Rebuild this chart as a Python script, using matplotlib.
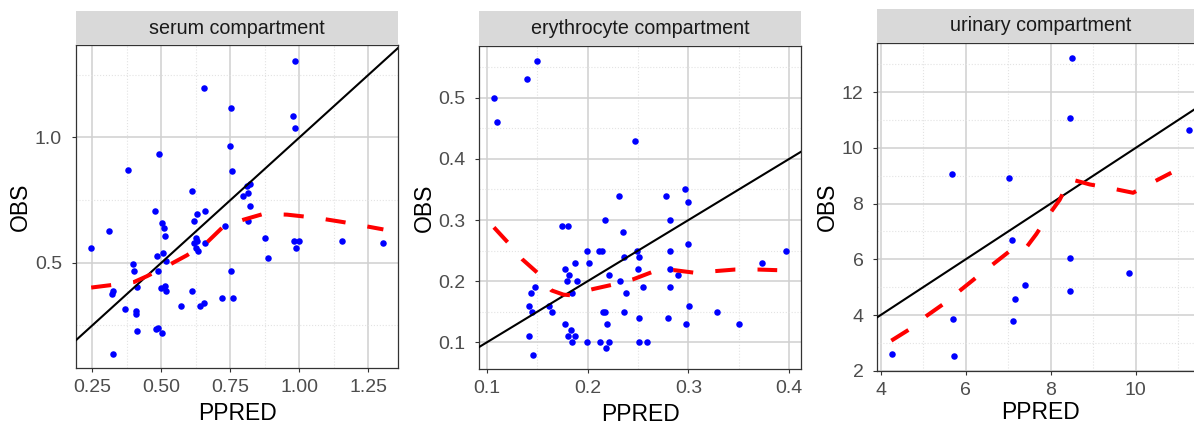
import matplotlib
matplotlib.use('Agg')
import matplotlib.pyplot as plt

plt.rcParams['font.family'] = ['Liberation Sans', 'DejaVu Sans']

# --- serum compartment ---
serum_ppred = [0.244, 0.310, 0.326, 0.323, 0.324, 0.367, 0.379, 0.397, 0.400, 0.408, 0.408,
               0.411, 0.411, 0.478, 0.488, 0.480, 0.503, 0.504, 0.509, 0.514, 0.507, 0.485,
               0.488, 0.517, 0.500, 0.515, 0.518, 0.492, 0.570, 0.612, 0.611, 0.617, 0.629,
               0.659, 0.624, 0.629, 0.620, 0.627, 0.633, 0.659, 0.641, 0.656, 0.720, 0.729,
               0.751, 0.761, 0.656, 0.753, 0.749, 0.756, 0.822, 0.812, 0.814, 0.796, 0.822,
               0.814, 0.876, 0.885, 0.980, 0.999, 0.986, 0.984, 0.976, 0.984, 1.156, 1.303]
serum_obs = [0.557, 0.628, 0.387, 0.375, 0.136, 0.317, 0.869, 0.497, 0.467, 0.308, 0.297,
             0.226, 0.405, 0.707, 0.239, 0.235, 0.218, 0.657, 0.638, 0.606, 0.537, 0.528,
             0.467, 0.507, 0.398, 0.407, 0.387, 0.936, 0.328, 0.389, 0.787, 0.668, 0.696,
             0.706, 0.597, 0.586, 0.580, 0.560, 0.546, 0.578, 0.328, 0.338, 0.358, 0.646,
             0.467, 0.358, 1.198, 1.117, 0.967, 0.867, 0.816, 0.808, 0.777, 0.768, 0.728,
             0.668, 0.597, 0.517, 0.588, 0.588, 0.557, 1.306, 1.086, 1.037, 0.588, 0.578]
serum_smooth_x = [0.246, 0.319, 0.401, 0.449, 0.521, 0.593, 0.666, 0.726, 0.798, 0.870,
                  0.955, 1.063, 1.160, 1.304]
serum_smooth_y = [0.401, 0.411, 0.423, 0.447, 0.487, 0.530, 0.582, 0.646, 0.672, 0.695,
                  0.692, 0.679, 0.662, 0.633]

# --- erythrocyte compartment ---
ery_ppred = [0.107, 0.110, 0.140, 0.150, 0.247, 0.175, 0.180, 0.217, 0.231, 0.235, 0.236,
             0.199, 0.211, 0.214, 0.201, 0.187, 0.178, 0.181, 0.179, 0.189, 0.184, 0.221,
             0.232, 0.238, 0.249, 0.251, 0.250, 0.255, 0.278, 0.297, 0.300, 0.282, 0.282,
             0.282, 0.282, 0.300, 0.290, 0.373, 0.397, 0.148, 0.144, 0.142, 0.145, 0.162,
             0.165, 0.142, 0.146, 0.178, 0.183, 0.180, 0.187, 0.184, 0.199, 0.212, 0.221,
             0.218, 0.215, 0.217, 0.219, 0.236, 0.251, 0.251, 0.259, 0.280, 0.298, 0.301,
             0.328, 0.350]
ery_obs = [0.500, 0.460, 0.530, 0.560, 0.430, 0.290, 0.290, 0.300, 0.340, 0.280, 0.240,
           0.250, 0.250, 0.250, 0.230, 0.230, 0.220, 0.210, 0.200, 0.200, 0.180, 0.210,
           0.200, 0.180, 0.250, 0.240, 0.220, 0.190, 0.340, 0.350, 0.330, 0.300, 0.250,
           0.220, 0.190, 0.260, 0.210, 0.230, 0.250, 0.190, 0.180, 0.160, 0.150, 0.160,
           0.150, 0.110, 0.080, 0.130, 0.120, 0.110, 0.110, 0.100, 0.100, 0.100, 0.100,
           0.090, 0.150, 0.150, 0.130, 0.150, 0.140, 0.100, 0.100, 0.140, 0.130, 0.160,
           0.150, 0.130]
ery_smooth_x = [0.107, 0.121, 0.135, 0.150, 0.164, 0.176, 0.183, 0.205, 0.224, 0.245,
                0.264, 0.286, 0.305, 0.327, 0.346, 0.369, 0.388]
ery_smooth_y = [0.288, 0.263, 0.236, 0.214, 0.185, 0.178, 0.177, 0.187, 0.194, 0.203,
                0.215, 0.218, 0.214, 0.2165, 0.219, 0.219, 0.218]

# --- urinary compartment ---
uri_ppred = [4.27, 5.73, 5.71, 5.67, 7.03, 7.10, 7.12, 7.15, 7.40, 8.45, 8.50, 8.45, 8.46,
             9.84, 11.26]
uri_obs = [2.59, 2.53, 3.85, 9.08, 8.91, 6.70, 3.80, 4.59, 5.09, 11.08, 13.24, 6.04, 4.88,
           5.50, 10.63]
uri_smooth_x = [4.25, 4.68, 5.08, 5.47, 5.86, 6.25, 6.64, 7.04, 7.35, 7.66, 7.94, 8.21,
                8.45, 8.49, 8.92, 9.43, 9.94, 10.41, 10.84]
uri_smooth_y = [3.08, 3.49, 3.97, 4.39, 4.87, 5.35, 5.82, 6.30, 6.27, 6.90, 7.56, 8.13,
                8.85, 8.87, 8.69, 8.55, 8.39, 8.77, 9.11]

titles = ['serum compartment', 'erythrocyte compartment', 'urinary compartment']
xlims = [(0.191, 1.357), (0.0925, 0.4116), (3.92, 11.61)]
ylims = [(0.080, 1.369), (0.0564, 0.585), (1.99, 13.78)]
xmajor = [[0.25, 0.50, 0.75, 1.00, 1.25], [0.1, 0.2, 0.3, 0.4], [4, 6, 8, 10]]
xlabels = [['0.25', '0.50', '0.75', '1.00', '1.25'], ['0.1', '0.2', '0.3', '0.4'],
           ['4', '6', '8', '10']]
xminor = [[0.375, 0.625, 0.875, 1.125], [0.15, 0.25, 0.35], [5, 7, 9, 11]]
ymajor = [[0.5, 1.0], [0.1, 0.2, 0.3, 0.4, 0.5], [2, 4, 6, 8, 10, 12]]
ylabels = [['0.5', '1.0'], ['0.1', '0.2', '0.3', '0.4', '0.5'],
           ['2', '4', '6', '8', '10', '12']]
yminor = [[0.25, 0.75, 1.25], [0.15, 0.25, 0.35, 0.45, 0.55], [3, 5, 7, 9, 11, 13]]

# panel boxes in pixels: left, right, top, bottom, strip top
W, H = 1194, 425
boxes = [(76, 398, 45, 368, 11), (479.3, 801, 45.7, 369, 11), (877.3, 1204, 42.7, 371, 9)]
xlabel_pads = [4, 4, 1.5]

data = [(serum_ppred, serum_obs, serum_smooth_x, serum_smooth_y),
        (ery_ppred, ery_obs, ery_smooth_x, ery_smooth_y),
        (uri_ppred, uri_obs, uri_smooth_x, uri_smooth_y)]

fig = plt.figure(figsize=(W / 100, H / 100), dpi=100)

for i in range(3):
    l, r, t, b, st = boxes[i]
    ax = fig.add_axes([l / W, 1 - b / H, (r - l) / W, (b - t) / H])
    sax = fig.add_axes([l / W, 1 - t / H, (r - l) / W, (t - st) / H])
    sax.set_facecolor('#D9D9D9')
    sax.set_xticks([])
    sax.set_yticks([])
    for s in sax.spines.values():
        s.set_visible(False)
    sax.text(0.5, 0.5, titles[i], ha='center', va='center', fontsize=14.2, color='#1A1A1A',
             transform=sax.transAxes)

    x, y, sx, sy = data[i]
    ax.scatter(x, y, s=22, color='#0000FF', linewidths=0, zorder=3)
    ax.axline((0, 0), slope=1, color='black', lw=1.5, zorder=4)
    ax.plot(sx, sy, color='#FF0000', lw=2.9, dashes=(5, 5.5), dash_capstyle='butt', zorder=5)

    ax.set_xlim(xlims[i])
    ax.set_ylim(ylims[i])
    ax.set_xticks(xmajor[i])
    ax.set_xticklabels(xlabels[i])
    ax.set_yticks(ymajor[i])
    ax.set_yticklabels(ylabels[i])
    ax.set_xticks(xminor[i], minor=True)
    ax.set_yticks(yminor[i], minor=True)
    ax.grid(True, which='major', color='#D0D0D0', lw=1.1, zorder=0)
    ax.grid(True, which='minor', color='#E3E3E3', lw=0.8, ls=':', zorder=0)
    ax.set_axisbelow(True)
    ax.tick_params(which='major', length=3, width=0.8, color='#333333', labelsize=14,
                   labelcolor='#4D4D4D')
    ax.tick_params(axis='x', which='major', pad=5)
    ax.tick_params(axis='y', which='major', pad=7)
    ax.tick_params(which='minor', length=0)
    for s in ax.spines.values():
        s.set_color('#333333')
        s.set_linewidth(0.9)
    ax.set_xlabel('PPRED', fontsize=16.5, color='black', labelpad=xlabel_pads[i])
    ax.set_ylabel('OBS', fontsize=16.5, color='black', labelpad=2)

fig.savefig('out.png', dpi=100)
